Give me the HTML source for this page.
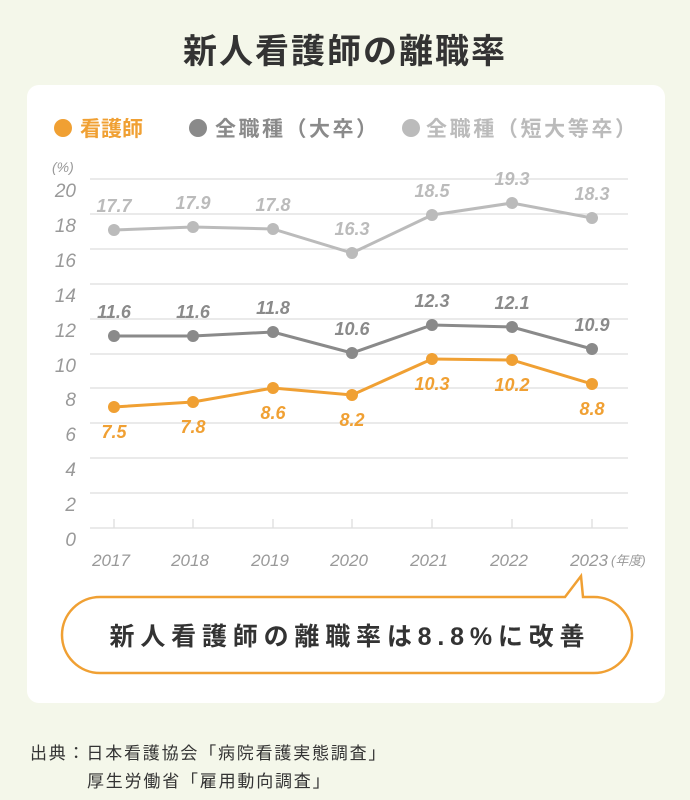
<!DOCTYPE html><html><head><meta charset="utf-8"><style>
body{margin:0;width:690px;height:800px;background:#f4f7ea;font-family:"Liberation Sans","Noto Sans CJK JP",sans-serif;position:relative;overflow:hidden}
.t{position:absolute;left:0;width:690px;text-align:center;top:24px;font-size:34px;font-weight:bold;color:#333;letter-spacing:2px}
.card{position:absolute;left:27px;top:85px;width:638px;height:618px;background:#fff;border-radius:12px}
.src{position:absolute;font-size:17px;color:#333;letter-spacing:1.8px}
</style></head><body>
<div class="t">新人看護師の離職率</div>
<div class="card"></div>
<svg width="690" height="800" style="position:absolute;left:0;top:0" font-family="Liberation Sans,Noto Sans CJK JP,sans-serif">
<g font-size="21" font-weight="bold">
<circle cx="63" cy="128" r="9" fill="#f0a033"/><text x="80" y="136" fill="#f0a033">看護師</text>
<circle cx="198" cy="128" r="9" fill="#8a8a8a"/><text x="215" y="136" fill="#8a8a8a" textLength="162">全職種（大卒）</text>
<circle cx="411" cy="128" r="9" fill="#bbb"/><text x="426" y="136" fill="#bbb" textLength="210">全職種（短大等卒）</text>
</g>
<text x="52" y="172" font-size="14" font-style="italic" fill="#999">(%)</text>
<g stroke="#ddd" stroke-width="1.3">
<line x1="90" x2="628" y1="179" y2="179"/><line x1="90" x2="628" y1="214" y2="214"/><line x1="90" x2="628" y1="249" y2="249"/><line x1="90" x2="628" y1="284" y2="284"/><line x1="90" x2="628" y1="319" y2="319"/><line x1="90" x2="628" y1="354" y2="354"/><line x1="90" x2="628" y1="388" y2="388"/><line x1="90" x2="628" y1="423" y2="423"/><line x1="90" x2="628" y1="458" y2="458"/><line x1="90" x2="628" y1="493" y2="493"/><line x1="90" x2="628" y1="528" y2="528"/>
<path d="M114 519V528M193 519V528M273 519V528M352 519V528M432 519V528M512 519V528M592 519V528"/>
</g>
<g font-size="19" font-style="italic" fill="#999" text-anchor="end">
<text x="76" y="197">20</text><text x="76" y="232">18</text><text x="76" y="267">16</text><text x="76" y="302">14</text><text x="76" y="337">12</text><text x="76" y="372">10</text><text x="76" y="406">8</text><text x="76" y="441">6</text><text x="76" y="476">4</text><text x="76" y="511">2</text><text x="76" y="546">0</text>
</g>
<g font-size="17" font-style="italic" fill="#999" text-anchor="middle">
<text x="111" y="566">2017</text><text x="190" y="566">2018</text><text x="270" y="566">2019</text><text x="349" y="566">2020</text><text x="429" y="566">2021</text><text x="509" y="566">2022</text><text x="589" y="566">2023</text>
</g>
<text x="611" y="565" font-size="13" font-style="italic" fill="#999">(年度)</text>
<polyline points="114,230 193,227 273,229 352,253 432,215 512,203 592,218" fill="none" stroke="#bbb" stroke-width="3"/>
<polyline points="114,336 193,336 273,332 352,353 432,325 512,327 592,349" fill="none" stroke="#8a8a8a" stroke-width="3"/>
<polyline points="114,407 193,402 273,388 352,395 432,359 512,360 592,384" fill="none" stroke="#f0a033" stroke-width="3"/>
<g fill="#bbb"><circle cx="114" cy="230" r="6"/><circle cx="193" cy="227" r="6"/><circle cx="273" cy="229" r="6"/><circle cx="352" cy="253" r="6"/><circle cx="432" cy="215" r="6"/><circle cx="512" cy="203" r="6"/><circle cx="592" cy="218" r="6"/></g>
<g fill="#8a8a8a"><circle cx="114" cy="336" r="6"/><circle cx="193" cy="336" r="6"/><circle cx="273" cy="332" r="6"/><circle cx="352" cy="353" r="6"/><circle cx="432" cy="325" r="6"/><circle cx="512" cy="327" r="6"/><circle cx="592" cy="349" r="6"/></g>
<g fill="#f0a033"><circle cx="114" cy="407" r="6"/><circle cx="193" cy="402" r="6"/><circle cx="273" cy="388" r="6"/><circle cx="352" cy="395" r="6"/><circle cx="432" cy="359" r="6"/><circle cx="512" cy="360" r="6"/><circle cx="592" cy="384" r="6"/></g>
<g font-size="18" font-style="italic" font-weight="bold" text-anchor="middle">
<g fill="#bbb"><text x="114" y="212">17.7</text><text x="193" y="209">17.9</text><text x="273" y="211">17.8</text><text x="352" y="235">16.3</text><text x="432" y="197">18.5</text><text x="512" y="185">19.3</text><text x="592" y="200">18.3</text></g>
<g fill="#8a8a8a"><text x="114" y="318">11.6</text><text x="193" y="318">11.6</text><text x="273" y="314">11.8</text><text x="352" y="335">10.6</text><text x="432" y="307">12.3</text><text x="512" y="309">12.1</text><text x="592" y="331">10.9</text></g>
<g fill="#f0a033"><text x="114" y="438">7.5</text><text x="193" y="433">7.8</text><text x="273" y="419">8.6</text><text x="352" y="426">8.2</text><text x="432" y="390">10.3</text><text x="512" y="391">10.2</text><text x="592" y="415">8.8</text></g>
</g>
<path d="M100 597H565L581 576L583 597H594A38 38 0 0 1 632 635A38 38 0 0 1 594 673H100A38 38 0 0 1 62 635A38 38 0 0 1 100 597Z" fill="#fff" stroke="#f0a033" stroke-width="2.5"/>
<text x="347" y="645" text-anchor="middle" font-size="25" font-weight="bold" fill="#333" textLength="475">新人看護師の離職率は8.8%に改善</text>
</svg>
<div class="src" style="left:30px;top:739px">出典：日本看護協会「病院看護実態調査」</div>
<div class="src" style="left:87px;top:767px">厚生労働省「雇用動向調査」</div>
</body></html>
